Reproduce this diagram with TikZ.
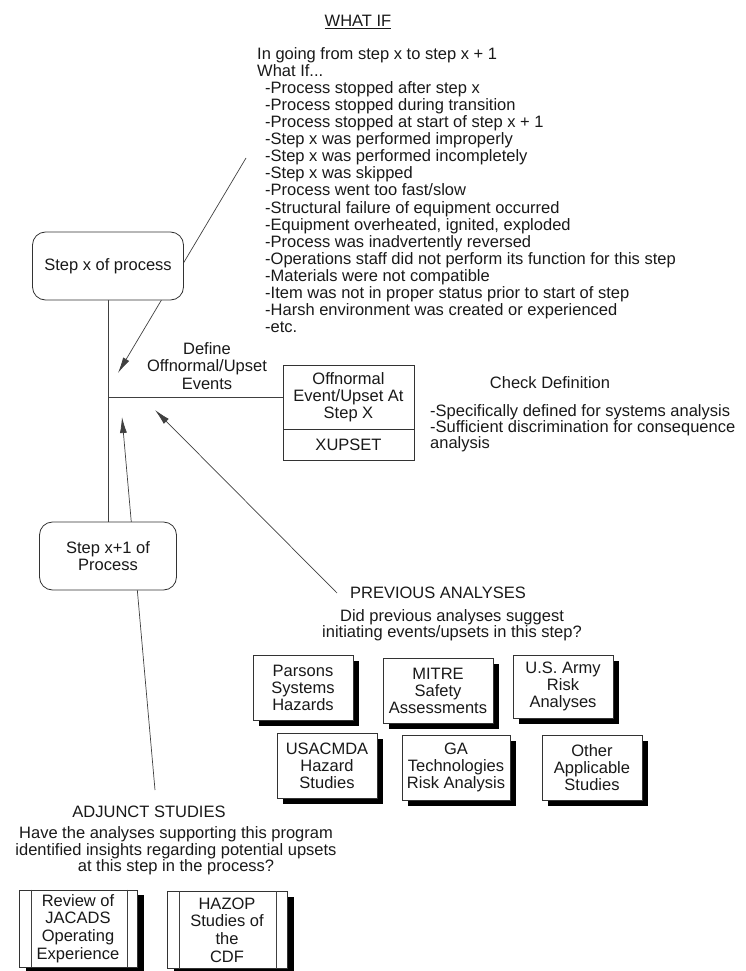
\documentclass[tikz,border=0pt]{standalone}
\usepackage{fontspec}
\setmainfont{Liberation Sans}
\usetikzlibrary{arrows.meta,shadows}
\pgfdeclarelayer{bg}
\pgfsetlayers{bg,main}
\begin{document}
\begin{tikzpicture}[x=1pt,y=-1pt,
  txt/.style={font=\fontsize{16.5}{17.1}\selectfont, inner sep=0pt, align=center, text=black!90},
  rbox/.style={txt, draw=black!80, line width=0.8pt, rounded corners=13pt, fill=white},
  plainbox/.style={txt, draw=black!80, line width=0.8pt, fill=white},
  sbox/.style={plainbox, minimum width=100pt, minimum height=65pt,
    drop shadow={shadow xshift=6pt, shadow yshift=-6pt, fill=black, opacity=1}},
  pbox/.style={plainbox, minimum height=77pt, font=\fontsize{16.5}{17.6}\selectfont,
    drop shadow={shadow xshift=7pt, shadow yshift=-5pt, fill=black, opacity=1}},
  conn/.style={draw=black!75, line width=0.7pt},
  arr/.style={conn, -{Latex[length=16pt,width=7pt]}}]
\useasboundingbox (0,0) rectangle (746,971);

% WHAT IF block
\node[txt] (whatif) at (358,22) {\underline{WHAT IF}};
\node[txt, align=left, anchor=north west] (list) at (257,47) {In going from step x to step x + 1\\
What If...\\
\hspace*{8pt}-Process stopped after step x\\
\hspace*{8pt}-Process stopped during transition\\
\hspace*{8pt}-Process stopped at start of step x + 1\\
\hspace*{8pt}-Step x was performed improperly\\
\hspace*{8pt}-Step x was performed incompletely\\
\hspace*{8pt}-Step x was skipped\\
\hspace*{8pt}-Process went too fast/slow\\
\hspace*{8pt}-Structural failure of equipment occurred\\
\hspace*{8pt}-Equipment overheated, ignited, exploded\\
\hspace*{8pt}-Process was inadvertently reversed\\
\hspace*{8pt}-Operations staff did not perform its function for this step\\
\hspace*{8pt}-Materials were not compatible\\
\hspace*{8pt}-Item was not in proper status prior to start of step\\
\hspace*{8pt}-Harsh environment was created or experienced\\
\hspace*{8pt}-etc.};

% process steps
\node[rbox, minimum width=151pt, minimum height=68pt] (sx) at (108,266) {Step x of process};
\node[rbox, minimum width=137pt, minimum height=68pt] (sx1) at (108,556) {Step x+1 of\\Process};

% define
\node[txt] (define) at (207,366) {Define\\Offnormal/Upset\\Events};
\node[plainbox, minimum width=131pt, minimum height=64pt] (off) at (348.5,397) {Offnormal\\Event/Upset At\\Step X};
\node[plainbox, minimum width=131pt, minimum height=31pt] (xup) at (348.5,444.5) {XUPSET};

% check definition
\node[txt] (check) at (550,383) {Check Definition};
\node[txt, align=left, anchor=north west, font=\fontsize{16.5}{16}\selectfont] (crit) at (430,404) {-Specifically defined for systems analysis\\-Sufficient discrimination for consequence\\analysis};

% previous analyses
\node[txt] (prev) at (438,593) {PREVIOUS ANALYSES};
\node[txt, font=\fontsize{16.5}{16.3}\selectfont] (prevq) at (452,625) {Did previous analyses suggest\\initiating events/upsets in this step?};
\node[sbox] (parsons) at (303,687.5) {Parsons\\Systems\\Hazards};
\node[sbox, minimum width=110pt] (mitre) at (438,690.5) {MITRE\\Safety\\Assessments};
\node[sbox, minimum height=63pt] (army) at (563,686.5) {U.S. Army\\Risk\\Analyses};
\node[sbox] (usacmda) at (327,765.5) {USACMDA\\Hazard\\Studies};
\node[sbox, minimum width=108pt] (ga) at (456,767.5) {GA\\Technologies\\Risk Analysis};
\node[sbox] (other) at (592,767.5) {Other\\Applicable\\Studies};

% adjunct studies
\node[txt] (adj) at (149,812) {ADJUNCT STUDIES};
\node[txt, font=\fontsize{16.5}{16.5}\selectfont] (adjq) at (176,851) {Have the analyses supporting this program\\identified insights regarding potential upsets\\at this step in the process?};
\node[pbox, minimum width=118pt] (rev) at (78,928.5) {Review of\\JACADS\\Operating\\Experience};
\node[pbox, minimum width=120pt] (hazop) at (227,930) {HAZOP\\Studies of\\the\\CDF};
\draw[conn] ([xshift=13pt]rev.north west) -- ([xshift=13pt]rev.south west);
\draw[conn] ([xshift=-10pt]rev.north east) -- ([xshift=-10pt]rev.south east);
\draw[conn] ([xshift=13pt]hazop.north west) -- ([xshift=13pt]hazop.south west);
\draw[conn] ([xshift=-11pt]hazop.north east) -- ([xshift=-11pt]hazop.south east);

% connectors
\begin{pgfonlayer}{bg}
\coordinate (j) at (108,397);
\draw[conn] (sx.south) -- (sx1.north);
\draw[conn] (j) -- (off.west);
\coordinate (wa) at (246,158);
\coordinate (wtip) at (118,373);
\draw[arr] (wa) -- (wtip);
\coordinate (pa) at (337,593);
\coordinate (ptip) at (155,410);
\draw[arr] (pa) -- (ptip);
\coordinate (aa) at (155,790);
\coordinate (atip) at (122,417);
\draw[arr] (aa) -- (atip);
\end{pgfonlayer}
\end{tikzpicture}
\end{document}
